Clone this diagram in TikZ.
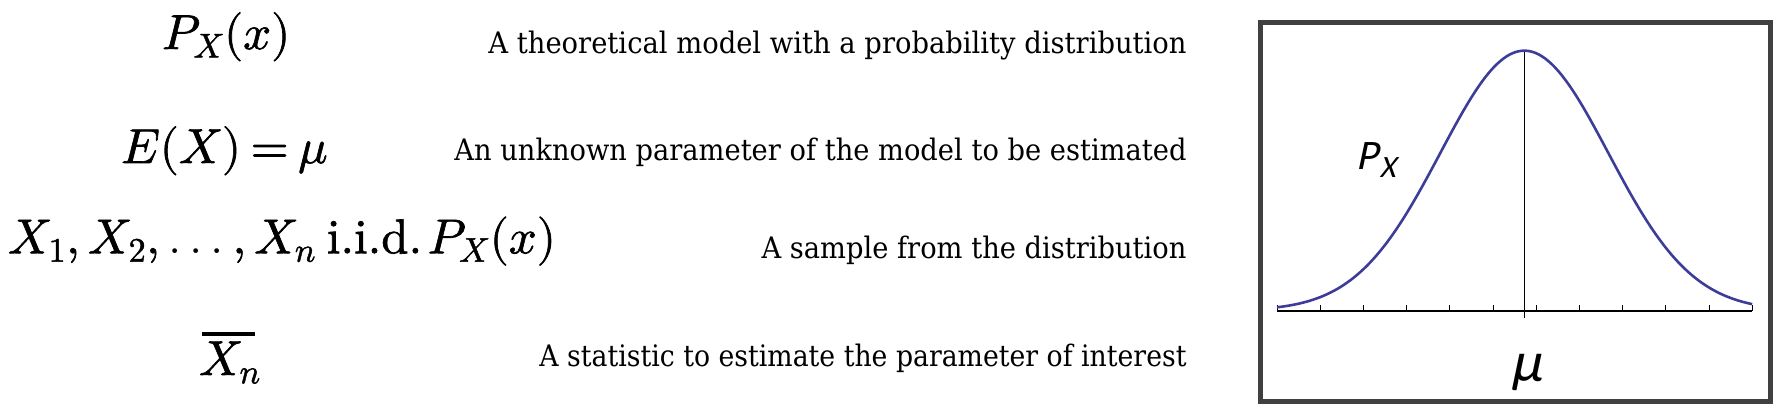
\RequirePackage{fix-cm}
\documentclass[tikz,border=0pt]{standalone}
\usepackage{fontspec}
\usepackage{unicode-math}
\setmathfont{Latin Modern Math}[FakeBold=1.3]
\usepackage{graphicx}
\newfontfamily\descfont{DejaVu Serif}
\newfontfamily\plotit{Carlito}[FakeSlant=0.21]
\definecolor{curveblue}{RGB}{61,61,153}
\definecolor{boxgray}{RGB}{64,64,64}
\newcommand{\fitw}[2]{\resizebox{#1}{\height}{#2}}
\newcommand{\lsub}[1]{_{\raisebox{3.7pt}{$\scriptstyle #1$}}}
\newcommand{\mydots}{\mathinner{\ldotp\ldotp\ldotp}}
\tikzset{
  mathlabel/.style={inner sep=0pt, outer sep=0pt, anchor=base west, font=\fontsize{49}{58}\selectfont},
  desclabel/.style={inner sep=0pt, outer sep=0pt, anchor=base east, font=\fontsize{29.6}{36}\selectfont\descfont},
  plotlabel/.style={inner sep=0pt, outer sep=0pt, font=\plotit},
  framebox/.style={draw=boxgray, line width=4.7pt},
  axisline/.style={draw=black, line width=1.6pt},
  tickline/.style={draw=black, line width=1pt},
  meanline/.style={draw=black, line width=1.1pt},
  densitycurve/.style={draw=curveblue, line width=2.6pt}
}
\begin{document}
\begin{tikzpicture}[x=1pt, y=-1pt]
\useasboundingbox (0,0) rectangle (1780,406);

% left column: mathematical expressions
\node[mathlabel] (m1) at (162,49) {$P\lsub{X}(x)$};
\node[mathlabel] (m2) at (121,163) {$E(X)\mskip3.5mu{=}\mskip3.5mu\mu$};
\node[mathlabel] (m3) at (8,253.3) {$X\lsub{1},X\lsub{2},\mydots,X\lsub{n}\mskip4mu\symup{i}.\symup{i}.\symup{d}.\mskip2mu P\lsub{X}(x)$};
\node[mathlabel] (m4) at (199,375) {\makebox[0pt][l]{\hspace{3pt}\raisebox{39pt}{\rule{53pt}{4pt}}}$X\lsub{n}$};

% middle column: descriptions
\node[desclabel] (d1) at (1186.5,53.3) {\fitw{698pt}{A theoretical model with a probability distribution}};
\node[desclabel] (d2) at (1186.5,160.7) {\fitw{732pt}{An unknown parameter of the model to be estimated}};
\node[desclabel] (d3) at (1186.5,258.3) {\fitw{425pt}{A sample from the distribution}};
\node[desclabel] (d4) at (1186.5,366.7) {\fitw{647pt}{A statistic to estimate the parameter of interest}};

% right: plot of the distribution
\draw[framebox] (1260.4,22.4) rectangle (1770.6,401.6);
\coordinate (axL) at (1277,310.7);
\coordinate (axR) at (1752.2,310.7);
\draw[axisline] (axL) -- (axR);
\foreach \k in {0,...,11} {
  \draw[tickline] ({1277+43.2*\k},310.7) -- ({1277+43.2*\k},305);
}
\coordinate (peak) at (1524.3,50.7);
\coordinate (meanfoot) at (1524.3,318);
\draw[meanline] (peak) -- (meanfoot);
\draw[densitycurve] plot[domain=-2.944:2.713, samples=150, smooth]
  ({1524.3+84*\x}, {310.7-260*exp(-\x*\x/2)});

\node[plotlabel, anchor=base west] (px) at (1356,170)
  {{\fontsize{42}{50}\selectfont P}\kern2pt\raisebox{-8pt}{\fontsize{31}{37}\selectfont X}};
\node[plotlabel, anchor=base] (mu) at (1526,381.5) {\fontsize{57}{68}\selectfont μ};
\end{tikzpicture}
\end{document}
